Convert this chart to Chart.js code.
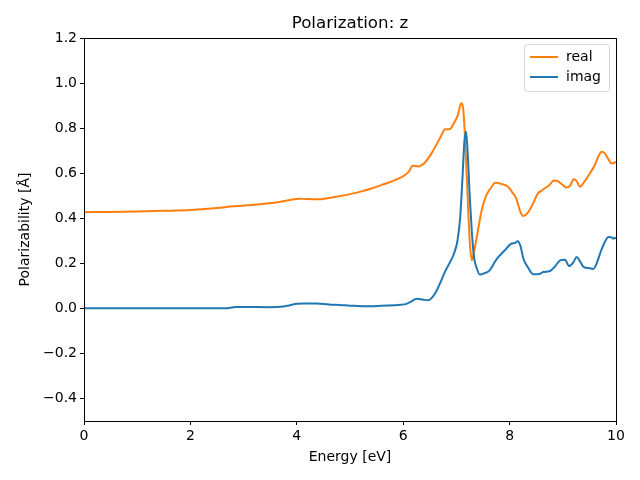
<!DOCTYPE html>
<html>
<head>
<meta charset="utf-8">
<script src="https://cdn.jsdelivr.net/npm/chart.js@4/dist/chart.umd.min.js"></script>
<style>
  html, body { margin: 0; padding: 0; background: #fff; }
  #wrap { width: 640px; height: 480px; }
</style>
</head>
<body>
<div id="wrap"><canvas id="polChart" width="640" height="480"></canvas></div>
<script>
const realEnergy = [0, 0.5, 1.0, 1.5, 2.0, 2.5, 2.8, 3.0, 3.3, 3.6, 3.9, 4.05, 4.2, 4.4, 4.6, 4.8, 5.0, 5.2, 5.4, 5.6, 5.8, 5.95, 6.1, 6.18, 6.28, 6.4, 6.55, 6.7, 6.79, 6.87, 6.95, 7.03, 7.09, 7.13, 7.17, 7.21, 7.25, 7.29, 7.33, 7.4, 7.48, 7.56, 7.65, 7.73, 7.85, 7.97, 8.05, 8.12, 8.2, 8.25, 8.3, 8.36, 8.45, 8.53, 8.6, 8.66, 8.75, 8.83, 8.9, 8.97, 9.07, 9.14, 9.2, 9.26, 9.32, 9.4, 9.51, 9.6, 9.67, 9.73, 9.78, 9.85, 9.92, 10.0];
const realValues = [0.427, 0.428, 0.430, 0.433, 0.437, 0.445, 0.453, 0.456, 0.462, 0.470, 0.482, 0.487, 0.485, 0.484, 0.490, 0.498, 0.507, 0.518, 0.532, 0.548, 0.565, 0.58, 0.605, 0.633, 0.63, 0.645, 0.695, 0.760, 0.795, 0.795, 0.82, 0.86, 0.91, 0.88, 0.72, 0.50, 0.30, 0.213, 0.25, 0.34, 0.44, 0.50, 0.535, 0.557, 0.552, 0.54, 0.515, 0.49, 0.43, 0.41, 0.415, 0.43, 0.47, 0.51, 0.522, 0.533, 0.548, 0.567, 0.565, 0.553, 0.536, 0.545, 0.573, 0.565, 0.54, 0.56, 0.60, 0.635, 0.675, 0.695, 0.69, 0.665, 0.643, 0.65];

const imagEnergy = [0, 1, 2, 2.7, 2.85, 3.0, 3.5, 3.7, 3.85, 4.0, 4.13, 4.38, 4.6, 4.8, 5.0, 5.3, 5.6, 5.95, 6.06, 6.15, 6.25, 6.38, 6.47, 6.55, 6.62, 6.69, 6.79, 6.88, 6.95, 7.02, 7.07, 7.11, 7.15, 7.18, 7.21, 7.25, 7.29, 7.33, 7.38, 7.44, 7.52, 7.63, 7.72, 7.79, 7.91, 8.04, 8.1, 8.15, 8.2, 8.26, 8.35, 8.45, 8.55, 8.63, 8.76, 8.85, 8.95, 9.04, 9.12, 9.2, 9.26, 9.32, 9.39, 9.5, 9.57, 9.63, 9.7, 9.78, 9.86, 9.92, 9.95, 10.0];
const imagValues = [0, 0, 0.0, 0.001, 0.006, 0.006, 0.005, 0.007, 0.013, 0.02, 0.022, 0.022, 0.017, 0.015, 0.012, 0.009, 0.012, 0.016, 0.02, 0.03, 0.043, 0.038, 0.036, 0.05, 0.075, 0.11, 0.165, 0.205, 0.24, 0.30, 0.40, 0.56, 0.74, 0.785, 0.70, 0.50, 0.34, 0.23, 0.18, 0.15, 0.155, 0.17, 0.205, 0.228, 0.258, 0.288, 0.29, 0.298, 0.28, 0.22, 0.18, 0.151, 0.152, 0.161, 0.166, 0.185, 0.213, 0.216, 0.188, 0.205, 0.228, 0.21, 0.184, 0.178, 0.175, 0.195, 0.243, 0.29, 0.317, 0.315, 0.31, 0.314];

const xTicks = [0, 2, 4, 6, 8, 10];
const yTicks = [-0.4, -0.2, 0.0, 0.2, 0.4, 0.6, 0.8, 1.0, 1.2];

const FONT = 'DejaVu Sans';
const chartTitle = 'Polarization: z';

function toPoints(xs, ys) {
    return xs.map((x, i) => ({ x: x, y: ys[i] }));
}

// frame around the plot area, title centred over it, legend upper right
const frameAndLegend = {
    id: 'frameAndLegend',
    afterDatasetsDraw(chart) {
        const ctx = chart.ctx;
        const a = chart.chartArea;
        ctx.save();
        ctx.strokeStyle = '#000';
        ctx.lineWidth = 1;
        ctx.strokeRect(Math.round(a.left) + 0.5, Math.round(a.top) + 0.5,
            Math.round(a.right - a.left), Math.round(a.bottom - a.top));

        ctx.fillStyle = '#000';
        ctx.font = '16.7px ' + FONT;
        ctx.textAlign = 'center';
        ctx.textBaseline = 'alphabetic';
        ctx.fillText(chartTitle, (a.left + a.right) / 2, a.top - 10);

        const boxW = 85, boxH = 47;
        const bx = a.right - 7 - boxW, by = a.top + 6;
        ctx.beginPath();
        ctx.roundRect(bx + 0.5, by + 0.5, boxW, boxH, 3);
        ctx.fillStyle = 'rgba(255,255,255,0.8)';
        ctx.fill();
        ctx.strokeStyle = '#d6d6d6';
        ctx.stroke();

        ctx.font = '14px ' + FONT;
        ctx.textAlign = 'left';
        ctx.textBaseline = 'middle';
        chart.data.datasets.forEach((ds, i) => {
            const y = by + 13 + i * 20;
            ctx.beginPath();
            ctx.moveTo(bx + 6, y);
            ctx.lineTo(bx + 34, y);
            ctx.strokeStyle = ds.borderColor;
            ctx.lineWidth = 2;
            ctx.stroke();
            ctx.fillStyle = '#000';
            ctx.fillText(ds.label, bx + 42, y);
        });
        ctx.restore();
    }
};

new Chart(document.getElementById('polChart'), {
    type: 'line',
    data: {
        datasets: [{
            label: 'real',
            data: toPoints(realEnergy, realValues),
            borderColor: '#ff7f0e',
            borderWidth: 2,
            pointRadius: 0,
            cubicInterpolationMode: 'monotone',
            order: 1
        }, {
            label: 'imag',
            data: toPoints(imagEnergy, imagValues),
            borderColor: '#1f77b4',
            borderWidth: 2,
            pointRadius: 0,
            cubicInterpolationMode: 'monotone',
            order: 0
        }]
    },
    options: {
        responsive: false,
        animation: false,
        layout: { padding: { left: 0, right: 24, top: 38, bottom: 0 } },
        plugins: {
            legend: { display: false },
            tooltip: { enabled: false },
            title: { display: false }
        },
        scales: {
            x: {
                type: 'linear',
                min: 0,
                max: 10,
                afterBuildTicks: (scale) => { scale.ticks = xTicks.map(v => ({ value: v })); },
                afterFit: (scale) => { scale.height = 59; },
                grid: { drawOnChartArea: false, drawTicks: true, tickLength: 4, color: '#000' },
                border: { display: false },
                ticks: {
                    color: '#000',
                    font: { family: FONT, size: 14 },
                    padding: 3,
                    maxRotation: 0,
                    callback: (v) => String(v)
                },
                title: {
                    display: true,
                    text: 'Energy [eV]',
                    color: '#000',
                    font: { family: FONT, size: 14 },
                    padding: { bottom: 14 }
                }
            },
            y: {
                type: 'linear',
                min: -0.5,
                max: 1.2,
                afterBuildTicks: (scale) => { scale.ticks = yTicks.map(v => ({ value: v })); },
                afterFit: (scale) => { scale.width = 84; },
                grid: { drawOnChartArea: false, drawTicks: true, tickLength: 4, color: '#000' },
                border: { display: false },
                ticks: {
                    color: '#000',
                    font: { family: FONT, size: 14 },
                    padding: 3,
                    callback: (v) => v.toFixed(1).replace('-', '\u2212')
                },
                title: {
                    display: true,
                    text: 'Polarizability [Å]',
                    color: '#000',
                    font: { family: FONT, size: 14 },
                    padding: { top: 17 }
                }
            }
        }
    },
    plugins: [frameAndLegend]
});
</script>
</body>
</html>
